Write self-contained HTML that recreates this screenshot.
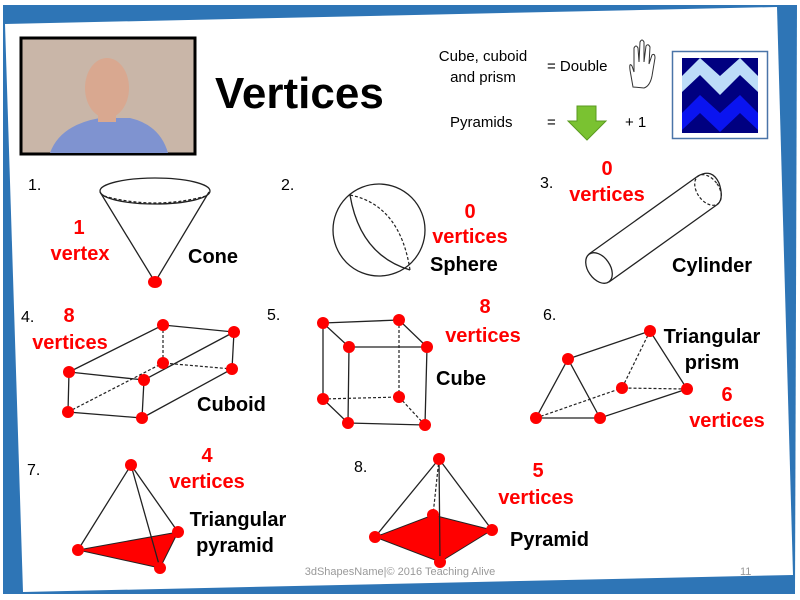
<!DOCTYPE html>
<html><head><meta charset="utf-8"><style>
html,body{margin:0;padding:0;background:#fff;width:800px;height:600px;overflow:hidden}
svg{display:block}
text{font-family:"Liberation Sans",sans-serif}
.r{fill:#ff0000;font-weight:bold;font-size:20px;text-anchor:middle}
.b{fill:#000;font-weight:bold;font-size:20px}
.n{fill:#000;font-size:16px}
.l{stroke:#222;stroke-width:1.3;fill:none}
.d{stroke:#222;stroke-width:1.2;fill:none;stroke-dasharray:3,2}
.v{fill:#ff0000}
</style></head><body>
<svg width="800" height="600" viewBox="0 0 800 600" xmlns="http://www.w3.org/2000/svg">
<polygon points="3,5 797,5 795,594 3,594" fill="#2e75b6"/>
<polygon points="5,24 777,7 793,575 23,592" fill="#fff"/>

<!-- photo -->
<rect x="21" y="38" width="174" height="116" fill="#c9b6a8" stroke="#000" stroke-width="3"/>
<path d="M50,153 Q60,125 100,118 L130,118 Q160,125 168,153 Z" fill="#7f93d0"/>
<ellipse cx="107" cy="88" rx="22" ry="30" fill="#d9a890"/>
<rect x="98" y="110" width="18" height="12" fill="#d9a890"/>

<!-- title -->
<text x="215" y="108" style="font-size:44px;font-weight:bold">Vertices</text>

<!-- top right rules -->
<text x="483" y="61" style="font-size:15px" text-anchor="middle">Cube, cuboid</text>
<text x="483" y="82" style="font-size:15px" text-anchor="middle">and prism</text>
<text x="547" y="71" style="font-size:15px">= Double</text>
<path d="M633,87 L630,70 Q629,62 632,66 L634,72 L634,48 Q636,44 638,48 L639,62 L640,42 Q642,38 644,42 L644,62 L646,46 Q648,43 650,47 L649,64 L652,55 Q655,53 655,58 L652,76 Q650,86 644,88 Z" fill="#fff" stroke="#333" stroke-width="1"/>
<text x="450" y="127" style="font-size:15px">Pyramids</text>
<text x="547" y="127" style="font-size:15px">=</text>
<path d="M577,106 L596,106 L596,121 L606,121 L587,140 L568,121 L577,121 Z" fill="#7ac231" stroke="#5a9a20" stroke-width="1"/>
<text x="625" y="127" style="font-size:15px">+ 1</text>
<rect x="672.5" y="51.5" width="95" height="87" fill="#fff" stroke="#4a74a8" stroke-width="1.5"/>
<rect x="682" y="58" width="76" height="75" fill="#000080"/>
<polygon points="682,76 700,58 720,76 740,58 758,76 758,92 740,75 720,95 700,75 682,92" fill="#bcdcf8"/>
<polygon points="682,113 700,95 720,113 740,95 758,113 758,130 740,113 720,132 700,113 682,130" fill="#0a14f0"/>

<!-- numbers -->
<text class="n" x="28" y="190">1.</text>
<text class="n" x="281" y="190">2.</text>
<text class="n" x="540" y="188">3.</text>
<text class="n" x="21" y="322">4.</text>
<text class="n" x="267" y="320">5.</text>
<text class="n" x="543" y="320">6.</text>
<text class="n" x="27" y="475">7.</text>
<text class="n" x="354" y="472">8.</text>

<!-- cone -->
<ellipse class="l" cx="155" cy="191" rx="55" ry="13"/>
<path class="d" d="M104,196 Q155,210 206,196"/>
<path class="l" d="M100,192 L155,282 L209,192"/>
<ellipse class="v" cx="155" cy="282" rx="7" ry="6"/>
<text class="r" x="79" y="234">1</text>
<text class="r" x="80" y="260">vertex</text>
<text class="b" x="188" y="263">Cone</text>

<!-- sphere -->
<circle class="l" cx="379" cy="230" r="46"/>
<path class="l" d="M350,195 Q360,255 410,270"/>
<path class="d" d="M350,195 Q400,205 410,270"/>
<text class="r" x="470" y="218">0</text>
<text class="r" x="470" y="243">vertices</text>
<text class="b" x="430" y="271">Sphere</text>

<!-- cylinder -->
<ellipse class="l" cx="599" cy="268" rx="11" ry="17" transform="rotate(-35 599 268)"/>
<ellipse class="d" cx="708" cy="190" rx="11" ry="17" transform="rotate(-35 708 190)"/>
<path class="l" d="M589,254 L698,176 M609,282 L718,204 M698,176 Q712,168 719,183 Q724,198 718,204"/>
<text class="r" x="607" y="175">0</text>
<text class="r" x="607" y="201">vertices</text>
<text class="b" x="672" y="272">Cylinder</text>

<!-- cuboid -->
<path class="l" d="M69,372 L163,325 L234,332 L144,380 Z M69,372 L68,412 L142,418 L144,380 M234,332 L232,369 L142,418"/>
<path class="d" d="M163,325 L163,363 L232,369 M68,412 L163,363"/>
<g class="v"><circle cx="163" cy="325" r="6"/><circle cx="234" cy="332" r="6"/><circle cx="69" cy="372" r="6"/><circle cx="144" cy="380" r="6"/><circle cx="163" cy="363" r="6"/><circle cx="232" cy="369" r="6"/><circle cx="68" cy="412" r="6"/><circle cx="142" cy="418" r="6"/></g>
<text class="r" x="69" y="322">8</text>
<text class="r" x="70" y="349">vertices</text>
<text class="b" x="197" y="411">Cuboid</text>

<!-- cube -->
<path class="l" d="M323,323 L399,320 L427,347 L349,347 Z M323,323 L323,399 L348,423 L425,425 L427,347 M349,347 L348,423"/>
<path class="d" d="M399,320 L399,397 L323,399 M399,397 L425,425"/>
<g class="v"><circle cx="323" cy="323" r="6"/><circle cx="399" cy="320" r="6"/><circle cx="349" cy="347" r="6"/><circle cx="427" cy="347" r="6"/><circle cx="323" cy="399" r="6"/><circle cx="399" cy="397" r="6"/><circle cx="348" cy="423" r="6"/><circle cx="425" cy="425" r="6"/></g>
<text class="r" x="485" y="313">8</text>
<text class="r" x="483" y="342">vertices</text>
<text class="b" x="436" y="385">Cube</text>

<!-- triangular prism -->
<path class="l" d="M568,359 L650,331 L687,389 L600,418 L536,418 L568,359 L600,418"/>
<path class="d" d="M650,331 L622,388 L687,389 M536,418 L622,388"/>
<g class="v"><circle cx="650" cy="331" r="6"/><circle cx="568" cy="359" r="6"/><circle cx="622" cy="388" r="6"/><circle cx="687" cy="389" r="6"/><circle cx="536" cy="418" r="6"/><circle cx="600" cy="418" r="6"/></g>
<text class="b" x="712" y="343" text-anchor="middle">Triangular</text>
<text class="b" x="712" y="369" text-anchor="middle">prism</text>
<text class="r" x="727" y="401">6</text>
<text class="r" x="727" y="427">vertices</text>

<!-- triangular pyramid -->
<polygon points="78,550 178,532 160,568" fill="#ff0000" stroke="#222" stroke-width="1"/>
<path class="l" d="M131,465 L78,550 M131,465 L178,532 M131,465 L160,568"/>
<g class="v"><circle cx="131" cy="465" r="6"/><circle cx="78" cy="550" r="6"/><circle cx="178" cy="532" r="6"/><circle cx="160" cy="568" r="6"/></g>
<text class="r" x="207" y="462">4</text>
<text class="r" x="207" y="488">vertices</text>
<text class="b" x="238" y="526" text-anchor="middle">Triangular</text>
<text class="b" x="235" y="552" text-anchor="middle">pyramid</text>

<!-- square pyramid -->
<polygon points="375,537 433,515 492,530 440,562" fill="#ff0000" stroke="#222" stroke-width="1"/>
<path class="l" d="M439,459 L375,537 M439,459 L492,530 M439,459 L440,562"/>
<path class="d" d="M439,459 L433,515"/>
<g class="v"><circle cx="439" cy="459" r="6"/><circle cx="433" cy="515" r="6"/><circle cx="492" cy="530" r="6"/><circle cx="375" cy="537" r="6"/><circle cx="440" cy="562" r="6"/></g>
<text class="r" x="538" y="477">5</text>
<text class="r" x="536" y="504">vertices</text>
<text class="b" x="510" y="546">Pyramid</text>

<!-- footer -->
<text x="400" y="575" style="font-size:11px;fill:#999" text-anchor="middle">3dShapesName|© 2016 Teaching Alive</text>
<text x="740" y="575" style="font-size:11px;fill:#999">11</text>
</svg>
</body></html>
